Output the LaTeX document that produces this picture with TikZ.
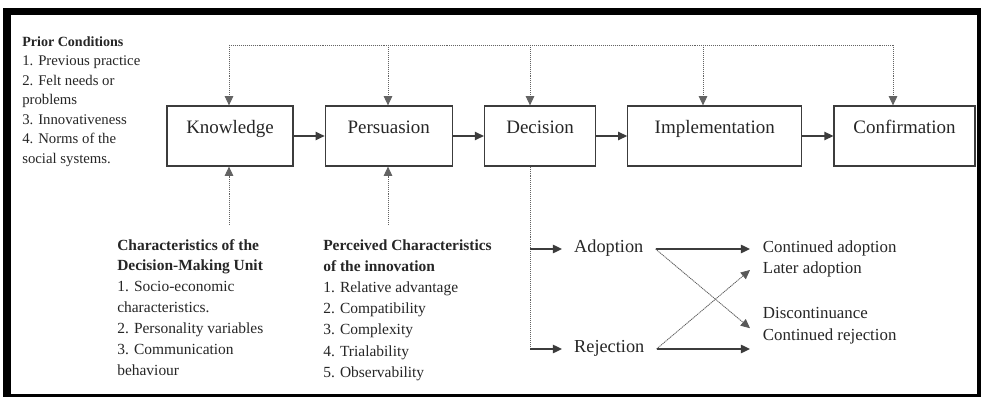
\documentclass[tikz,border=0pt]{standalone}
\usepackage{fontspec}
\setmainfont{Liberation Serif}
\usetikzlibrary{
  arrows.meta,
  calc,
  positioning
}
\definecolor{ink}{HTML}{262626}
\definecolor{lineg}{HTML}{3C3C3C}
\tikzset{
  stage/.style={
    draw=lineg, line width=0.9pt, text=ink,
    minimum width=0.25mm*#1, minimum height=15mm,
    text height=0.7em, text depth=1.1em,
    font=\fontsize{13.5}{16}\selectfont
  },
  flow/.style={-{Triangle[length=6.5pt,width=6pt]}, draw=lineg, line width=1pt},
  dots/.style={draw=lineg!80, line width=0.6pt, dash pattern=on 0.7pt off 0.7pt},
  dotflow/.style={dots, -{Triangle[length=6.5pt,width=6pt]}},
  cross/.style={draw=lineg!85, line width=0.55pt, dash pattern=on 0.9pt off 0.5pt,
    -{Triangle[length=6.5pt,width=6pt]}},
  note/.style={align=left, inner sep=0pt, text=ink, anchor=north west},
  result/.style={text=ink, inner ysep=0pt, text height=0.7em, text depth=0.25em},
}

\begin{document}
\begin{tikzpicture}[x=0.25mm, y=-0.25mm, node distance=7.75mm]

% --- frame ---
\useasboundingbox (0,0) rectangle (981,397);
\fill[black] (3,8) rectangle (981,397);
\fill[white] (11,15) rectangle (977,394);

% --- the five stages ---
\node[stage=126] (know) at (230,136) {Knowledge};
\node[stage=127, right=of know] (pers) {Persuasion};
\node[stage=111, right=of pers] (deci) {Decision};
\node[stage=174, right=of deci] (impl) {Implementation};
\node[stage=141, right=of impl] (conf) {Confirmation};

\draw[flow] (know) -- (pers);
\draw[flow] (pers) -- (deci);
\draw[flow] (deci) -- (impl);
\draw[flow] (impl) -- (conf);

% --- prior conditions feed back over the top ---
\coordinate (tk) at (229,45);
\coordinate (tp) at (388,45);
\coordinate (td) at (530,45);
\coordinate (ti) at (703,45);
\coordinate (tc) at (893,45);
\draw[dots] (tk) -- (tc);
\draw[dotflow] (tk) -- (tk |- know.north);
\draw[dotflow] (tp) -- (tp |- pers.north);
\draw[dotflow] (td) -- (td |- deci.north);
\draw[dotflow] (ti) -- (ti |- impl.north);
\draw[dotflow] (tc) -- (tc |- conf.north);

\node[note, font=\fontsize{10.5}{13.9}\selectfont] (prior) at (22,36)
  {{\fontsize{10}{13.9}\selectfont\textbf{Prior Conditions}}\\1. Previous practice\\2. Felt needs or\\problems\\
   3. Innovativeness\\4. Norms of the\\social systems.};

% --- characteristics from below ---
\node[note, font=\fontsize{11}{14.8}\selectfont] (unit) at (117,239)
  {\textbf{Characteristics of the}\\\textbf{Decision-Making Unit}\\1. Socio-economic\\characteristics.\\
   2. Personality variables\\3. Communication\\behaviour};
\node[note, font=\fontsize{11}{15.1}\selectfont] (innov) at (323,239)
  {\textbf{Perceived Characteristics}\\\textbf{of the innovation}\\1. Relative advantage\\2. Compatibility\\
   3. Complexity\\4. Trialability\\5. Observability};

\coordinate (kfoot) at (229,225);
\coordinate (pfoot) at (388,225);
\draw[dotflow] (kfoot) -- (kfoot |- know.south);
\draw[dotflow] (pfoot) -- (pfoot |- pers.south);

% --- decision branches ---
\node[result, font=\fontsize{13}{15}\selectfont, inner xsep=8.5pt, anchor=west] (adopt) at (562,249) {Adoption};
\node[result, font=\fontsize{13}{15}\selectfont, inner xsep=8.5pt, anchor=west] (reject) at (562,349) {Rejection};

\coordinate (dsplit) at (530,249);
\coordinate (dend) at (530,349);
\draw[dots] (td |- deci.south) -- (dend);
\draw[flow] (dsplit) -- (adopt.west);
\draw[flow] (dend) -- (reject.west);

% --- outcomes ---
\node[result, font=\fontsize{12}{15}\selectfont, inner xsep=9pt, anchor=west] (contad) at (750,249) {Continued adoption};
\node[result, font=\fontsize{12}{15}\selectfont, inner xsep=9pt, anchor=west] (later) at (750,270) {Later adoption};
\node[result, font=\fontsize{12}{15}\selectfont, inner xsep=9pt, anchor=west] (discon) at (750,315) {Discontinuance};
\node[result, font=\fontsize{12}{15}\selectfont, inner xsep=9pt, anchor=west] (contrej) at (750,337) {Continued rejection};

\draw[flow] (adopt.east) -- (contad.west);
\draw[cross] (adopt.east) -- ($(discon.west)!0.6!(contrej.west)$);
\draw[cross] (reject.east) -- (later.west);
\draw[flow] (reject.east) -- (contrej.west |- reject.east);

\end{tikzpicture}
\end{document}
